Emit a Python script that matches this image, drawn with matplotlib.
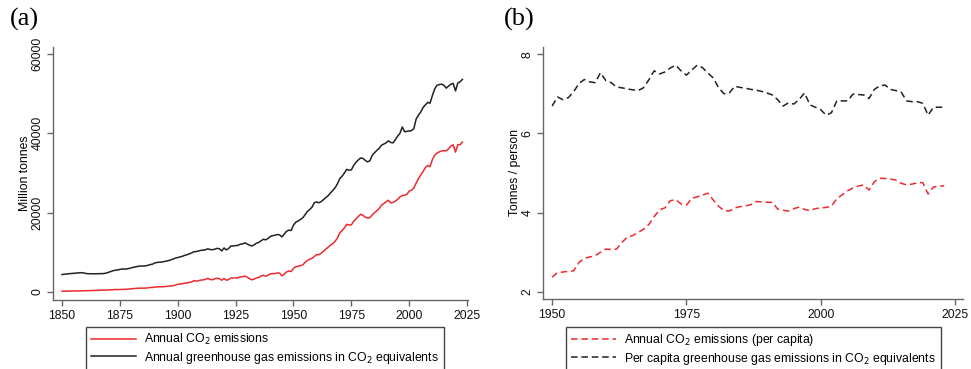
import matplotlib
matplotlib.use("Agg")
import matplotlib.pyplot as plt
import numpy as np

plt.rcParams['font.family'] = ['Liberation Sans', 'DejaVu Sans']

# ---------------- data ----------------
years_total = list(range(1850, 2024))
co2_total = [
    197, 198, 207, 217, 255, 254, 270, 276, 281, 299,
    331, 345, 347, 370, 397, 419, 426, 455, 461, 494,
    518, 540, 599, 630, 603, 636, 660, 677, 684, 735,
    823, 856, 904, 960, 965, 965, 977, 1033, 1132, 1138,
    1236, 1291, 1301, 1289, 1336, 1411, 1450, 1518, 1602, 1752,
    1952, 2012, 2061, 2259, 2274, 2426, 2555, 2839, 2746, 2850,
    3006, 3057, 3181, 3445, 3150, 3093, 3343, 3464, 3384, 2956,
    3397, 2984, 3127, 3559, 3518, 3563, 3569, 3838, 3825, 4046,
    3728, 3378, 3070, 3258, 3524, 3683, 4004, 4217, 3985, 4215,
    4571, 4646, 4643, 4798, 4785, 4066, 4485, 5062, 5291, 5158,
    6003, 6387, 6472, 6664, 6824, 7452, 7952, 8260, 8494, 8973,
    9407, 9425, 9777, 10276, 10826, 11291, 11823, 12176, 12805, 13606,
    14888, 15463, 16172, 17051, 16900, 16912, 17834, 18432, 19066, 19605,
    19340, 18853, 18665, 18731, 19424, 20011, 20458, 21041, 21871, 22287,
    22753, 23134, 22457, 22611, 22889, 23364, 23980, 24308, 24389, 24618,
    25453, 25665, 26213, 27483, 28588, 29511, 30380, 31377, 31902, 31598,
    33364, 34500, 35006, 35319, 35577, 35589, 35600, 36096, 36826, 37082,
    35264, 37124, 37150, 37791,
]
ghg_total = [
    4400, 4480, 4550, 4600, 4650, 4700, 4750, 4800, 4870, 4850,
    4700, 4620, 4600, 4600, 4580, 4600, 4600, 4620, 4650, 4750,
    4950, 5150, 5350, 5500, 5550, 5700, 5800, 5780, 5800, 5950,
    6100, 6250, 6350, 6500, 6550, 6550, 6600, 6700, 6900, 7000,
    7300, 7450, 7500, 7550, 7650, 7800, 7900, 8100, 8300, 8550,
    8700, 8850, 9000, 9250, 9400, 9600, 9850, 10150, 10200, 10350,
    10500, 10550, 10650, 10900, 10700, 10650, 10800, 11000, 10900, 10350,
    11100, 10600, 11000, 11600, 11600, 11700, 11750, 12050, 12100, 12400,
    12100, 11800, 11600, 11900, 12300, 12500, 12900, 13300, 13150, 13500,
    14000, 14200, 14300, 14500, 14400, 13900, 14600, 15300, 15600, 15500,
    16900, 17600, 17900, 18300, 18700, 19500, 20300, 20800, 21400, 22500,
    22700, 22500, 22800, 23300, 23800, 24300, 25000, 25600, 26300, 27300,
    28600, 29200, 30000, 30900, 30700, 30800, 31900, 32700, 33300, 33800,
    33700, 33200, 32800, 33100, 34400, 35100, 35700, 36200, 37000, 37300,
    37600, 38100, 37700, 37600, 38400, 39300, 40000, 41600, 40400, 40500,
    40600, 40700, 41200, 43600, 44600, 45400, 46500, 47200, 47800, 47600,
    49500, 51200, 52100, 52300, 52400, 52100, 51400, 51900, 52400, 52600,
    50700, 52700, 53000, 53600,
]

years_pc = list(range(1950, 2024))
co2_pc = [
    2.37, 2.49, 2.50, 2.52, 2.53, 2.74, 2.85, 2.88, 2.91, 3.00,
    3.08, 3.07, 3.08, 3.25, 3.38, 3.42, 3.50, 3.58, 3.70, 3.90,
    4.07, 4.12, 4.30, 4.33, 4.22, 4.19, 4.36, 4.40, 4.44, 4.49,
    4.32, 4.16, 4.05, 4.04, 4.12, 4.15, 4.17, 4.20, 4.28, 4.27,
    4.26, 4.26, 4.09, 4.06, 4.04, 4.10, 4.14, 4.08, 4.05, 4.10,
    4.12, 4.13, 4.16, 4.35, 4.45, 4.55, 4.62, 4.67, 4.70, 4.57,
    4.78, 4.87, 4.86, 4.85, 4.82, 4.74, 4.70, 4.72, 4.75, 4.76,
    4.47, 4.65, 4.66, 4.68,
]
ghg_pc = [
    6.69, 6.92, 6.85, 6.90, 7.05, 7.26, 7.36, 7.30, 7.28, 7.53,
    7.33, 7.28, 7.17, 7.15, 7.12, 7.10, 7.08, 7.15, 7.35, 7.58,
    7.50, 7.55, 7.65, 7.72, 7.58, 7.47, 7.60, 7.72, 7.66, 7.52,
    7.40, 7.15, 7.00, 7.02, 7.19, 7.16, 7.14, 7.11, 7.09, 7.06,
    7.02, 6.97, 6.85, 6.69, 6.77, 6.74, 6.86, 7.02, 6.72, 6.66,
    6.60, 6.46, 6.52, 6.82, 6.82, 6.82, 6.99, 6.98, 6.97, 6.88,
    7.11, 7.20, 7.22, 7.11, 7.08, 7.04, 6.82, 6.80, 6.80, 6.76,
    6.46, 6.66, 6.66, 6.66,
]

label_co2 = "Annual CO$_2$ emissions"
label_ghg = "Annual greenhouse gas emissions in CO$_2$ equivalents"
label_co2_pc = "Annual CO$_2$ emissions (per capita)"
label_ghg_pc = "Per capita greenhouse gas emissions in CO$_2$ equivalents"

x_ticks_a = [1850, 1875, 1900, 1925, 1950, 1975, 2000, 2025]
y_ticks_a = [0, 20000, 40000, 60000]
x_ticks_b = [1950, 1975, 2000, 2025]
y_ticks_b = [2, 4, 6, 8]

# ---------------- style ----------------
RED = '#ee2a2e'
BLACK = '#222222'
SPINE = '#666666'
FS = 8.8

W, H = 971, 369
fig = plt.figure(figsize=(W / 100, H / 100), dpi=100)


def make_axes(l, r, b, t):
    return fig.add_axes([l / W, 1 - b / H, (r - l) / W, (b - t) / H])


def style(ax):
    for s in ('top', 'right'):
        ax.spines[s].set_visible(False)
    for s in ('left', 'bottom'):
        ax.spines[s].set_color(SPINE)
        ax.spines[s].set_linewidth(1.0)
    ax.tick_params(axis='both', direction='out', length=4, width=1.0,
                   color=SPINE, labelsize=FS, labelcolor='#111111', pad=3)
    for lab in ax.get_yticklabels():
        lab.set_rotation(90)
        lab.set_va('center')


def add_legend(handles, cx):
    fig.legend(handles=handles, loc='upper center',
               bbox_to_anchor=(cx / W, 1 - 327 / H), bbox_transform=fig.transFigure,
               fontsize=FS, frameon=True, fancybox=False, edgecolor='#444444',
               framealpha=1, handlelength=3.7, handletextpad=0.65,
               borderpad=0.4, labelspacing=0.22, borderaxespad=0)


# ---- panel (a) ----
ax1 = make_axes(53, 468, 300, 47)
ax1.plot(years_total, co2_total, color=RED, lw=1.1, label=label_co2)
ax1.plot(years_total, ghg_total, color=BLACK, lw=1.1, label=label_ghg)
ax1.set_xlim(1846.1, 2025.4)
ax1.set_ylim(-2017, 61770)
ax1.set_xticks(x_ticks_a)
ax1.set_yticks(y_ticks_a)
ax1.set_yticklabels([str(v) for v in y_ticks_a])
ax1.set_ylabel("Million tonnes", fontsize=FS, labelpad=0)
style(ax1)
add_legend(ax1.get_lines(), 265)

fig.text(10 / W, 1 - 8 / H, "(a)", fontsize=19, family='Liberation Serif',
         ha='left', va='top')

# ---- panel (b) ----
ax2 = make_axes(543, 963, 299, 47)
l1, = ax2.plot(years_pc, co2_pc, color=RED, lw=1.1, label=label_co2_pc)
l2, = ax2.plot(years_pc, ghg_pc, color=BLACK, lw=1.1, label=label_ghg_pc)
for ln in (l1, l2):
    ln.set_dashes((4.3, 2.5))
ax2.set_xlim(1948.3, 2026.5)
ax2.set_ylim(1.82, 8.18)
ax2.set_xticks(x_ticks_b)
ax2.set_yticks(y_ticks_b)
ax2.set_ylabel("Tonnes / person", fontsize=FS, labelpad=0)
style(ax2)
add_legend([l1, l2], 753.5)

fig.text(504 / W, 1 - 8 / H, "(b)", fontsize=19, family='Liberation Serif',
         ha='left', va='top')

fig.savefig("out.png", dpi=100)
